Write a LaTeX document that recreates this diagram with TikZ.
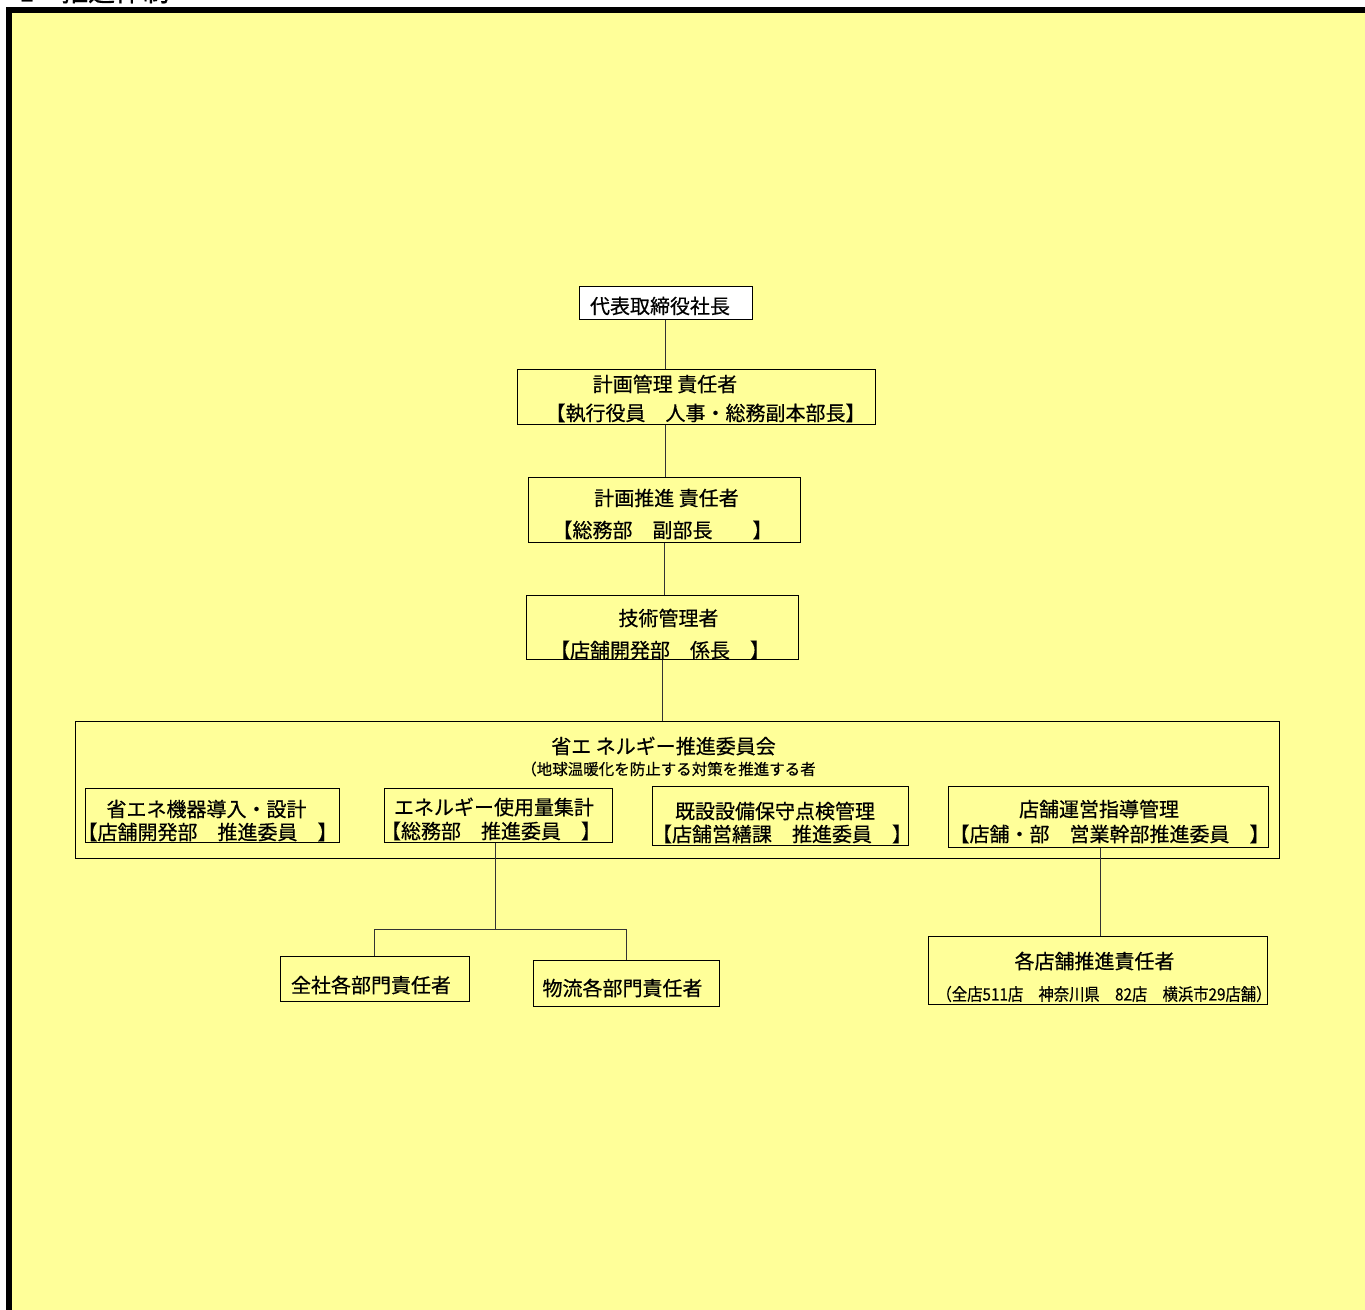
\documentclass[tikz,border=0pt]{standalone}
\usepackage{fontspec}
\setmainfont{Noto Sans CJK JP}[FakeBold=0.5]
\definecolor{bgyellow}{RGB}{255,255,153}
\tikzset{
  box/.style={draw=black, line width=1pt, fill=bgyellow, inner sep=0pt, rectangle},
  lbl/.style={inner sep=0pt, anchor=center, font=\fontsize{20}{21}\selectfont},
  sublbl/.style={inner sep=0pt, anchor=center, font=\fontsize{15.5}{16}\selectfont},
  conn/.style={line width=1pt, draw=black!80},
}
\begin{document}
\begin{tikzpicture}[x=1pt,y=-1pt]
\useasboundingbox (0,0) rectangle (1365,1309);
\clip (0,0) rectangle (1365,1309);
% heading (cut off at top in the reference)
\node[inner sep=0pt, anchor=west, font=\fontsize{27}{28}\selectfont] (head) at (19,-9) {1　推進体制};
% frame
\draw[line width=6pt, fill=bgyellow] (9,10) rectangle (1420,1360);
% boxes
\node[box, fill=white, minimum width=173pt, minimum height=33pt] (b1) at (665.5,302.5) {};
\node[box, minimum width=358pt, minimum height=55pt] (b2) at (696,396.5) {};
\node[box, minimum width=272pt, minimum height=65pt] (b3) at (664,509.5) {};
\node[box, minimum width=272pt, minimum height=64pt] (b4) at (662,627) {};
\node[box, minimum width=1204pt, minimum height=137pt] (big) at (677,789.5) {};
\node[box, minimum width=254pt, minimum height=54pt] (sa) at (212,815) {};
\node[box, minimum width=228pt, minimum height=54pt] (sb) at (498,815) {};
\node[box, minimum width=256pt, minimum height=59pt] (sc) at (780,815.5) {};
\node[box, minimum width=320pt, minimum height=61pt] (sd) at (1108,816.5) {};
\node[box, minimum width=189pt, minimum height=45pt] (zen) at (374.5,978.5) {};
\node[box, minimum width=186pt, minimum height=46pt] (butsu) at (626,983) {};
\node[box, minimum width=339pt, minimum height=68pt] (kaku) at (1097.5,970) {};
% connectors
\coordinate (j) at (495,929);
\draw[conn] (b1.south) -- (b1.south |- b2.north);
\draw[conn] (b1.south |- b2.south) -- (b1.south |- b3.north);
\draw[conn] (b3.south) -- (b3.south |- b4.north);
\draw[conn] (b4.south) -- (b4.south |- big.north);
\draw[conn] (sb.south -| j) -- (j);
\draw[conn] (zen.north) -- (zen.north |- j) -- (butsu.north |- j) -- (butsu.north);
\coordinate (k) at (1100,900);
\draw[conn] (sd.south -| k) -- (kaku.north -| k);
% texts
\node[lbl] (t1) at (660,306) {代表取締役社長};
\node[lbl] (t2a) at (665,384) {計画管理 責任者};
\node[lbl] (t2b) at (705.5,413) {【執行役員　人事・総務副本部長】};
\node[lbl] (t3a) at (666.5,498) {計画推進 責任者};
\node[lbl] (t3b) at (662.5,530) {【総務部　副部長　　】};
\node[lbl] (t4a) at (668.5,618) {技術管理者};
\node[lbl] (t4b) at (660,650) {【店舗開発部　係長　】};
\node[lbl] (tbig) at (663.5,746) {省エ ネルギー推進委員会};
\node[sublbl] (tbigsub) at (668.5,769) {（地球温暖化を防止する対策を推進する者};
\node[lbl] (tsa1) at (206.5,809) {省エネ機器導入・設計};
\node[lbl] (tsa2) at (207.5,832) {【店舗開発部　推進委員　】};
\node[lbl] (tsb1) at (494,807) {エネルギー使用量集計};
\node[lbl] (tsb2) at (491,831) {【総務部　推進委員　】};
\node[lbl] (tsc1) at (775,811) {既設設備保守点検管理};
\node[lbl] (tsc2) at (782,834) {【店舗営繕課　推進委員　】};
\node[lbl] (tsd1) at (1099,809) {店舗運営指導管理};
\node[lbl] (tsd2) at (1109.5,834) {【店舗・部　営業幹部推進委員　】};
\node[lbl] (tzen) at (371,985) {全社各部門責任者};
\node[lbl] (tbutsu) at (622.5,988) {物流各部門責任者};
\node[lbl] (tkaku1) at (1094.5,961) {各店舗推進責任者};
\node[lbl] (tkaku2) at (1104,994) {\scalebox{0.9}[1]{\fontsize{17}{18}\selectfont （全店511店　神奈川県　82店　横浜市29店舗）}};
\end{tikzpicture}
\end{document}
